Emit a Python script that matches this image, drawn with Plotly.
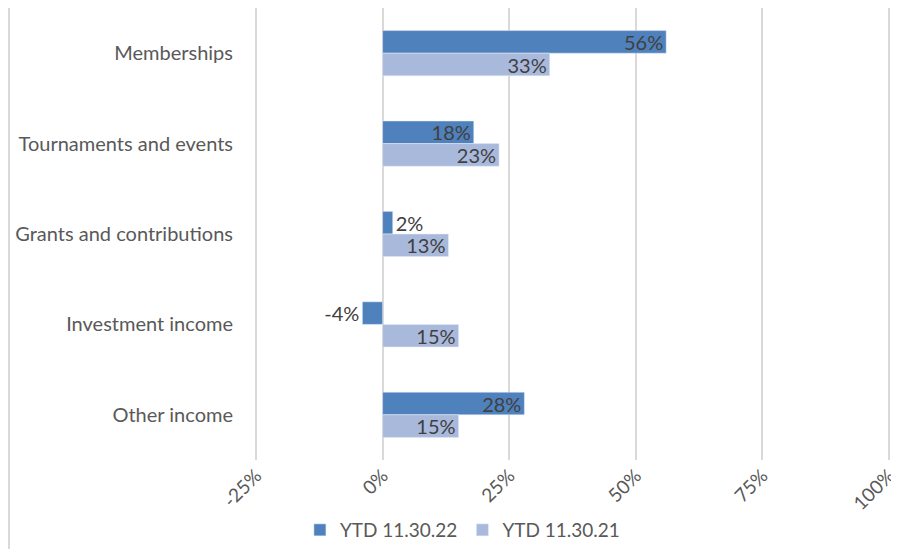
import plotly.graph_objects as go

categories = ["Memberships", "Tournaments and events", "Grants and contributions",
              "Investment income", "Other income"]
ytd_22 = [0.56, 0.18, 0.02, -0.04, 0.28]
ytd_21 = [0.33, 0.23, 0.13, 0.15, 0.15]
series_names = ["YTD 11.30.22", "YTD 11.30.21"]
tick_vals = [-0.25, 0, 0.25, 0.5, 0.75, 1.0]
tick_text = ["-25%", "0%", "25%", "50%", "75%", "100%"]

FONT = "Lato"
TXT = "#404040"

def pos(vals):
    return ["inside" if abs(v) >= 0.1 else "outside" for v in vals]

fig = go.Figure()
for vals, name, color in [(ytd_22, series_names[0], "#4f81bd"),
                          (ytd_21, series_names[1], "#a9b9dc")]:
    fig.add_trace(go.Bar(
        y=categories, x=vals, orientation="h", name=name,
        marker=dict(color=color),
        text=[f"{round(v*100)}%" for v in vals], textposition=pos(vals),
        insidetextanchor="end", constraintext="none",
        textfont=dict(family=FONT, size=20, color=TXT), cliponaxis=False,
    ))

# page body has an 8px default margin, so the figure is sized to fit inside the window
fig.update_layout(
    width=891, height=541,
    margin=dict(l=247, r=9, t=0, b=89),
    paper_bgcolor="white", plot_bgcolor="white",
    barmode="group", bargap=0.5, bargroupgap=0,
    font=dict(family=FONT, color="#595959"),
    xaxis=dict(range=[-0.252, 1.002], tickvals=tick_vals, ticktext=tick_text,
               tickangle=-45, showgrid=True, gridcolor="#d9d9d9", gridwidth=2,
               zeroline=False, showline=False, automargin=False,
               tickfont=dict(family=FONT, size=19, color="#595959")),
    yaxis=dict(autorange="reversed", showgrid=False, zeroline=False, showline=False,
               ticks="", ticklabelstandoff=21, automargin=False,
               tickfont=dict(family=FONT, size=20, color="#595959")),
    legend=dict(orientation="h", xref="container", yref="container",
                x=0.51, xanchor="center", y=-0.012, yanchor="bottom",
                font=dict(family=FONT, size=19, color="#595959"),
                itemwidth=30, traceorder="normal"),
    shapes=[dict(type="line", xref="paper", yref="paper",
                 x0=-0.3874, x1=-0.3874, y0=-0.2, y1=1.0,
                 line=dict(color="#d9d9d9", width=2))],
)

fig.write_html("out.html")
